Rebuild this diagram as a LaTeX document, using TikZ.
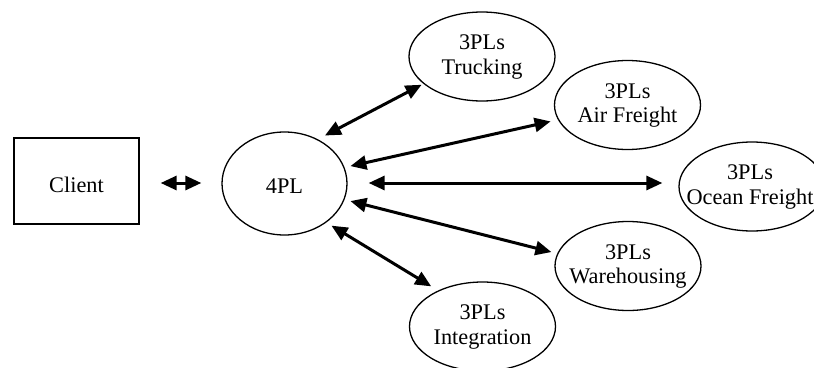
\documentclass[tikz,border=0pt]{standalone}
\usepackage{fontspec}
\setmainfont{Liberation Serif}
\usetikzlibrary{shapes.geometric,arrows.meta}
\begin{document}
\begin{tikzpicture}[x=1pt,y=-1pt,
  txt/.style={font=\fontsize{22.3}{24.7}\selectfont, align=center, inner sep=0pt},
  provider/.style={ellipse, draw, line width=1.3pt, inner sep=0pt,
    minimum width=146pt, minimum height=89pt},
  link/.style={line width=3pt, {Triangle[length=16pt,width=14pt]}-{Triangle[length=16pt,width=14pt]}}]
\useasboundingbox (0,0) rectangle (814,367);

% client and the fourth-party provider
\node[draw, line width=1.3pt, minimum width=125pt, minimum height=86pt, inner sep=0pt]
  (client) at (76.5,181) {};
\node[txt] (clientlbl) at (76.5,184.5) {Client};
\node[ellipse, draw, line width=1.3pt, inner sep=0pt, minimum width=125pt, minimum height=103pt]
  (fourpl) at (284.5,183.5) {};
\node[txt] (fourpllbl) at (284.5,186.5) {4PL};

% third-party providers
\node[provider] (truck) at (482,56.5) {};
\node[txt] (trucklbl) at (482,57) {3PLs\\Trucking};
\node[provider] (air) at (627.5,105) {};
\node[txt] (airlbl) at (627.5,105.5) {3PLs\\Air Freight};
\node[provider] (ocean) at (752,186.5) {};
\node[txt] (oceanlbl) at (750,187) {3PLs\\Ocean Freight};
\node[provider] (ware) at (628,266) {};
\node[txt] (warelbl) at (628,266.5) {3PLs\\Warehousing};
\node[provider] (integ) at (482.5,326.5) {};
\node[txt] (integlbl) at (482.5,327) {3PLs\\Integration};

% connectors
\draw[link, shorten <=21pt, shorten >=20pt] (client.east |- 0,183) -- (fourpl.west |- 0,183);
\draw[link, shorten <=8pt, shorten >=2pt] (fourpl.53) -- (truck.205);
\draw[link, shorten <=6pt, shorten >=7.5pt] (fourpl.15) -- (air.192);
\draw[link, shorten <=21pt, shorten >=16pt] (fourpl.east |- 0,183) -- (ocean.west |- 0,183);
\draw[link, shorten <=6pt, shorten >=6pt] (fourpl.-15) -- (ware.170);
\draw[link, shorten <=6pt, shorten >=8pt] (fourpl.-43) -- (integ.141);
\end{tikzpicture}
\end{document}
